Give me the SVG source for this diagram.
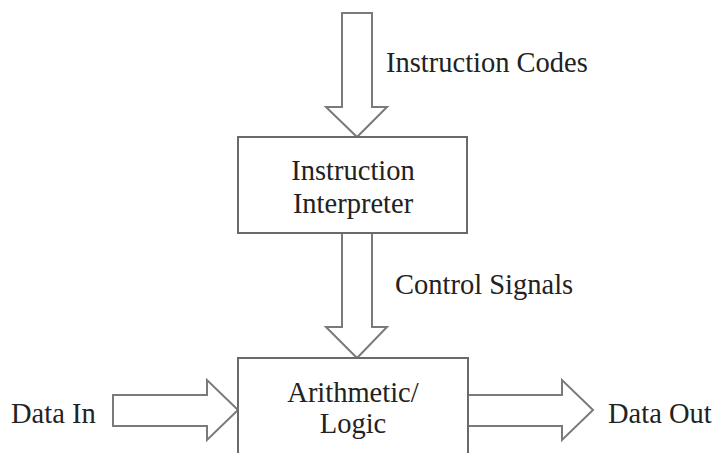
<svg xmlns="http://www.w3.org/2000/svg" width="714" height="453" viewBox="0 0 714 453">
<style>
.box{fill:#fff;stroke:#6a6a6a;stroke-width:2}
.arr{fill:#fff;stroke:#7a7a7a;stroke-width:2;stroke-linejoin:miter}
.t{font-family:"Liberation Serif","Times New Roman",serif;font-size:28.5px;fill:#222}
.c{text-anchor:middle}
</style>
<rect width="714" height="453" fill="#fff"/>
<g id="connectors">
<polygon class="arr" points="342,13 372,13 372,107 387,107 357,137 326,107 342,107"/>
<polygon class="arr" points="342,233 372,233 372,327 387,327 357,358 326,327 342,327"/>
<polygon class="arr" points="113,395 207,395 207,380 238,410 207,440 207,426 113,426"/>
<polygon class="arr" points="468,395 562,395 562,380 593,410 562,440 562,426 468,426"/>
</g>
<g id="label-instruction-codes"><text class="t" x="386" y="72">Instruction Codes</text></g>
<g id="label-control-signals"><text class="t" x="395" y="294">Control Signals</text></g>
<g id="label-data-in"><text class="t" x="11" y="423">Data In</text></g>
<g id="label-data-out"><text class="t" x="608" y="423">Data Out</text></g>
<g id="instruction-interpreter">
<rect class="box" x="238" y="137" width="229" height="96"/>
<text class="t c" x="353" y="180">Instruction</text>
<text class="t c" x="353" y="213">Interpreter</text>
</g>
<g id="arithmetic-logic">
<rect class="box" x="238" y="358" width="230" height="110"/>
<text class="t c" x="353" y="402">Arithmetic/</text>
<text class="t c" x="353" y="433">Logic</text>
</g>
</svg>
